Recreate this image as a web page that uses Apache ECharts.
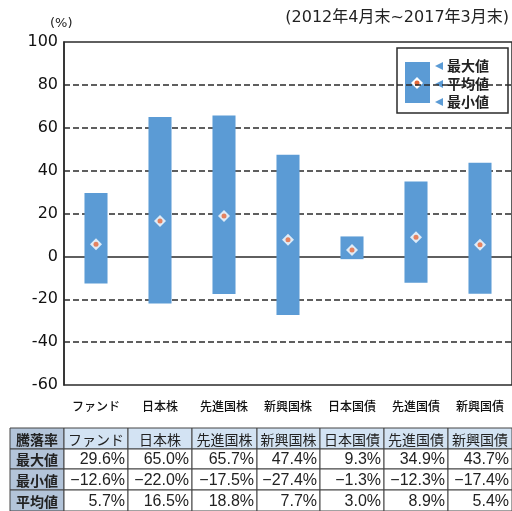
<!DOCTYPE html>
<html>
<head>
<meta charset="utf-8">
<script src="https://cdn.jsdelivr.net/npm/echarts@6/dist/echarts.min.js"></script>
<style>
  html, body { margin: 0; padding: 0; background: #fff; }
  #main { width: 512px; height: 511px; }
</style>
</head>
<body>
<div id="main"></div>
<script>
const categories = ['ファンド', '日本株', '先進国株', '新興国株', '日本国債', '先進国債', '新興国債']
const maxVals = [29.6, 65.0, 65.7, 47.4, 9.3, 34.9, 43.7]
const minVals = [-12.6, -22.0, -17.5, -27.4, -1.3, -12.3, -17.4]
const avgVals = [5.7, 16.5, 18.8, 7.7, 3.0, 8.9, 5.4]
const gridVals = [80, 60, 40, 20, -20, -40]
const rowLabels = ['最大値', '最小値', '平均値']
const cornerLabel = '騰落率'

const blue = '#5b9bd5'
const dark = '#2b2b2b'
const jp = '"Noto Sans CJK JP", sans-serif'

const fmt = v => v.toFixed(1).replace('-', '−') + '%'

// table below the chart
function buildTable() {
  const colX = [10, 64, 128, 192, 257, 320, 384, 448, 512]
  const rowY = [428, 449, 469, 490, 511]
  const rows = [maxVals, minVals, avgVals]
  const els = []
  for (let r = 0; r < 4; r++) {
    for (let c = 0; c < 8; c++) {
      const x = colX[c], y = rowY[r]
      const w = colX[c + 1] - x, h = rowY[r + 1] - y
      let fill = '#fff'
      if (c === 0) fill = '#b3c4d9'
      else if (r === 0) fill = '#d3e3f3'
      els.push({
        type: 'rect',
        shape: { x: x, y: y, width: w, height: h },
        style: { fill: fill, stroke: '#444', lineWidth: 1 }
      })
      let text, align, tx, font
      if (r === 0 && c === 0) { text = cornerLabel; align = 'center'; tx = x + w / 2; font = 'bold 14px ' + jp }
      else if (r === 0) { text = categories[c - 1]; align = 'center'; tx = x + w / 2; font = '14px ' + jp }
      else if (c === 0) { text = rowLabels[r - 1]; align = 'center'; tx = x + w / 2; font = 'bold 14px ' + jp }
      else { text = fmt(rows[r - 1][c - 1]); align = 'right'; tx = x + w - 3; font = '16px "Liberation Sans", sans-serif' }
      els.push({
        type: 'text',
        z: 101,
        style: { x: tx, y: y + h / 2 + 1, text: text, font: font, fill: '#222', textAlign: align, textVerticalAlign: 'middle' }
      })
    }
  }
  return els
}

function buildLegend() {
  const names = ['最大値', '平均値', '最小値']
  const ys = [66, 84, 102]
  const els = [
    { type: 'rect', shape: { x: 397, y: 48, width: 111, height: 65 }, style: { fill: '#fff', stroke: dark, lineWidth: 1.5 } },
    { type: 'rect', shape: { x: 405, y: 62, width: 25, height: 41 }, style: { fill: blue } },
    { type: 'polygon', shape: { points: [[417, 77], [423, 83], [417, 89], [411, 83]] }, style: { fill: '#fff' } },
    { type: 'circle', shape: { cx: 417, cy: 83, r: 2.5 }, style: { fill: '#e5683a' } }
  ]
  names.forEach((n, i) => {
    els.push({ type: 'polygon', shape: { points: [[435, ys[i]], [443, ys[i] - 4], [443, ys[i] + 4]] }, style: { fill: blue } })
    els.push({ type: 'text', style: { x: 447, y: ys[i], text: n, font: 'bold 14px ' + jp, fill: '#222', textVerticalAlign: 'middle' } })
  })
  return els
}

const chart = echarts.init(document.getElementById('main'))

const option = {
  animation: false,
  backgroundColor: '#fff',
  grid: { left: 64, top: 42, width: 449, height: 343, show: true, borderColor: dark, borderWidth: 1.5 },
  xAxis: [
    {
      type: 'category',
      data: categories,
      axisLine: { onZero: true, lineStyle: { color: dark, width: 1.5 } },
      axisTick: { inside: true, length: 5, lineStyle: { color: dark, width: 1.2 } },
      axisLabel: { show: false },
      splitLine: { show: false }
    },
    {
      type: 'category',
      data: categories,
      position: 'bottom',
      axisLine: { show: false, onZero: false },
      axisTick: { show: false },
      splitLine: { show: false },
      axisLabel: { margin: 15, fontSize: 12, fontWeight: 500, color: '#111', fontFamily: jp }
    }
  ],
  yAxis: {
    type: 'value',
    min: -60,
    max: 100,
    interval: 20,
    name: '(%)',
    nameLocation: 'end',
    nameGap: 12,
    nameTextStyle: { fontSize: 13, color: '#222', fontFamily: 'DejaVu Sans', align: 'left', padding: [0, 0, 0, -14] },
    axisLine: { show: true, lineStyle: { color: dark, width: 1.5 } },
    axisTick: { show: false },
    axisLabel: { fontSize: 16, color: '#111', fontFamily: 'DejaVu Sans', margin: 6 },
    splitLine: { show: false }
  },
  graphic: [
    { type: 'text', right: 3, top: 10, style: { text: '(2012年4月末~2017年3月末)', font: '16px "DejaVu Sans", "Noto Sans CJK JP", sans-serif', fill: '#222' } },
    ...buildLegend(),
    ...buildTable()
  ],
  series: [
    {
      // dashed grid lines, kept under the bars
      type: 'line',
      data: [],
      z: 1,
      markLine: {
        silent: true,
        symbol: 'none',
        label: { show: false },
        lineStyle: { color: dark, type: [6, 3], width: 1.5 },
        data: gridVals.map(v => ({ yAxis: v }))
      }
    },
    {
      type: 'custom',
      z: 5,
      data: categories.map((c, i) => [i, minVals[i], maxVals[i]]),
      renderItem: function (params, api) {
        const lo = api.coord([api.value(0), api.value(1)])
        const hi = api.coord([api.value(0), api.value(2)])
        const w = api.size([1, 0])[0] * 0.36
        return {
          type: 'rect',
          shape: { x: lo[0] - w / 2, y: hi[1], width: w, height: lo[1] - hi[1] },
          style: { fill: blue }
        }
      }
    },
    {
      type: 'scatter',
      data: avgVals,
      symbol: 'diamond',
      symbolSize: 12,
      itemStyle: { color: '#fff' },
      z: 6
    },
    {
      type: 'scatter',
      data: avgVals,
      symbol: 'circle',
      symbolSize: 5,
      itemStyle: { color: '#e5683a' },
      z: 7
    }
  ]
}

chart.setOption(option)
</script>
</body>
</html>
